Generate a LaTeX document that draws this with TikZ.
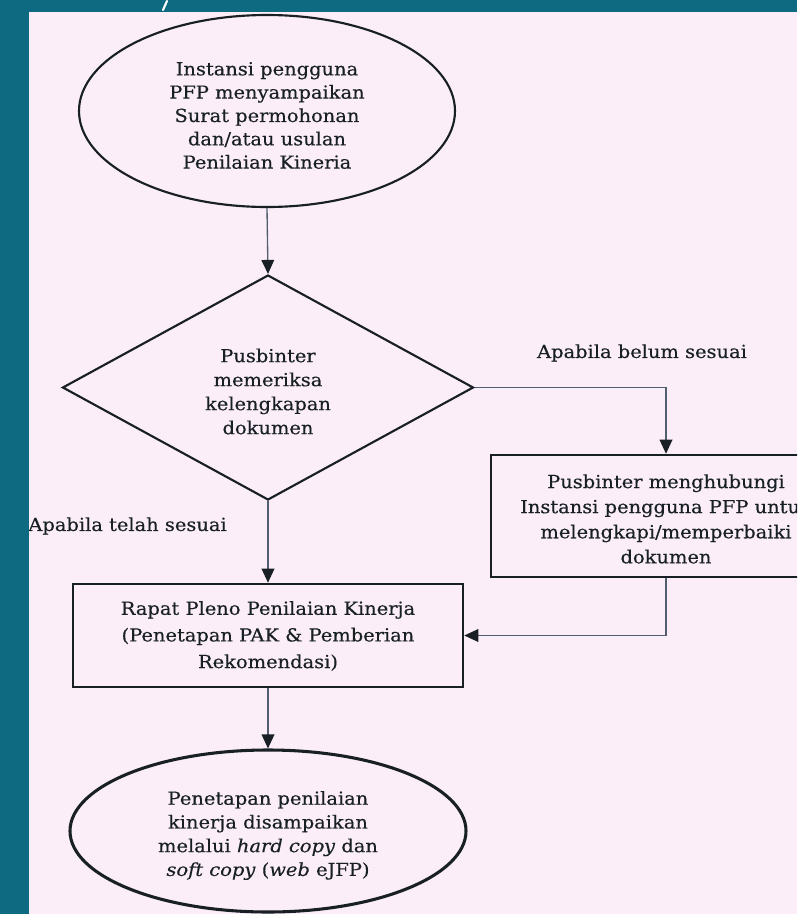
\documentclass[tikz,border=0pt]{standalone}
\usepackage{fontspec}
\setmainfont[FakeStretch=1.08,FakeBold=0.35]{DejaVu Serif}
\usetikzlibrary{shapes.geometric,arrows.meta}
\definecolor{bgteal}{RGB}{14,106,128}
\definecolor{panel}{RGB}{252,238,248}
\definecolor{ink}{RGB}{24,32,38}
\definecolor{conn}{RGB}{80,94,110}
\begin{document}
\begin{tikzpicture}[x=0.75pt,y=-0.75pt,
  txt/.style={font=\fontsize{13.5}{17.4}\selectfont, text=ink, align=center, inner sep=0pt},
  ellbox/.style={ellipse, draw=ink, inner sep=0pt},
  decbox/.style={diamond, draw=ink, line width=1.6pt, inner sep=0pt},
  procbox/.style={rectangle, draw=ink, line width=1.9pt, inner sep=0pt},
  flow/.style={draw=conn, line width=1pt, -{Triangle[length=10.5pt,width=9.5pt,color=ink,fill=ink]}},
  lbl/.style={font=\fontsize{13.5}{17}\selectfont, text=ink, inner sep=0pt}]
\useasboundingbox (0,0) rectangle (797,914);
\clip (0,0) rectangle (797,914);
\fill[bgteal] (0,0) rectangle (797,914);
\fill[panel] (29,12) rectangle (797,914);

% shapes
\node[ellbox, line width=1.6pt, minimum width=282pt, minimum height=144pt] (start) at (267,111) {};
\node[decbox, minimum width=308.25pt, minimum height=168.75pt] (check) at (268,387.5) {};
\node[procbox, minimum width=262.5pt, minimum height=91.5pt] (fix) at (666,516) {};
\node[procbox, minimum width=292.5pt, minimum height=77.25pt] (pleno) at (268,635.5) {};
\node[ellbox, line width=2.3pt, minimum width=297pt, minimum height=121.5pt] (final) at (268,831) {};

% texts
\node[txt, font=\fontsize{13.5}{17.5}\selectfont] (tstart) at (267,115.5)
  {Instansi pengguna\\PFP menyampaikan\\Surat permohonan\\dan/atau usulan\\Penilaian Kineria};
\node[txt, font=\fontsize{13.5}{18}\selectfont] (tcheck) at (268,391.5)
  {Pusbinter\\memeriksa\\kelengkapan\\dokumen};
\node[txt, font=\fontsize{13.5}{18.8}\selectfont] (tfix) at (666,519)
  {Pusbinter menghubungi\\Instansi pengguna PFP untuk\\melengkapi/memperbaiki\\dokumen};
\node[txt, font=\fontsize{13.5}{20}\selectfont] (tpleno) at (268,636)
  {Rapat Pleno Penilaian Kinerja\\(Penetapan PAK \& Pemberian\\Rekomendasi)};
\node[txt, font=\fontsize{13.5}{17.8}\selectfont] (tfinal) at (268,835.5)
  {Penetapan penilaian\\kinerja disampaikan\\melalui \textit{hard copy} dan\\\textit{soft copy} (\textit{web} eJFP)};

\node[lbl] (lbelum) at (642,353) {Apabila belum sesuai};
\node[lbl, anchor=east] (ltelah) at (227,526) {Apabila telah sesuai};

% connectors
\draw[flow] (start.south) -- (check.north);
\draw[flow] (check.east) -| (fix.north);
\draw[flow] (check.south) -- (pleno.north);
\draw[flow] (fix.south) |- (pleno.east);
\draw[flow] (pleno.south) -- (final.north);

\fill[bgteal] (0,0) rectangle (29,914);
\fill[bgteal] (0,0) rectangle (797,12);
\draw[white, line width=1.6pt, line cap=round] (163,10) -- (167,1);
\end{tikzpicture}
\end{document}
